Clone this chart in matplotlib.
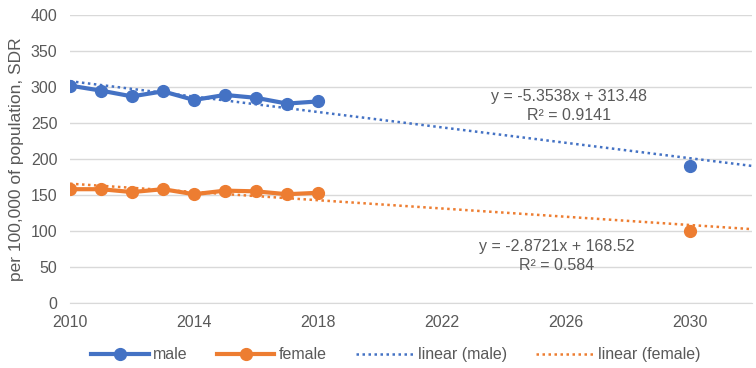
import matplotlib.pyplot as plt
import numpy as np

plt.rcParams["font.family"] = ["Liberation Sans", "DejaVu Sans"]

years = [2010, 2011, 2012, 2013, 2014, 2015, 2016, 2017, 2018]
male = [302, 295, 287, 294, 282, 289, 285, 277, 280]
female = [158, 158, 154, 158, 151, 156, 155, 151, 153]
forecast_year = 2030
male_2030 = 190
female_2030 = 100

# Excel trendline coefficients (x = index, 2010 -> 1)
male_slope, male_icpt, male_r2 = -5.3538, 313.48, 0.9141
female_slope, female_icpt, female_r2 = -2.8721, 168.52, 0.584
trend_end = 2032

blue = "#4472C4"
orange = "#ED7D31"
gray = "#595959"

fig = plt.figure(figsize=(7.56, 3.68), dpi=100)
ax = fig.add_axes([0.0926, 0.177, 0.902, 0.782])

ax.plot(years, male, color=blue, lw=3, marker="o", ms=8.5, label="male", zorder=3)
ax.plot(years, female, color=orange, lw=3, marker="o", ms=8.5, label="female", zorder=3)
ax.plot([forecast_year], [male_2030], color=blue, marker="o", ms=8.5, ls="none", zorder=3)
ax.plot([forecast_year], [female_2030], color=orange, marker="o", ms=8.5, ls="none", zorder=3)

tx = np.array([years[0], trend_end])
idx = tx - years[0] + 1
ax.plot(tx, male_slope * idx + male_icpt, color=blue, lw=1.8, ls=(0, (1, 1.4)),
        label="linear (male)", zorder=2)
ax.plot(tx, female_slope * idx + female_icpt, color=orange, lw=1.8, ls=(0, (1, 1.4)),
        label="linear (female)", zorder=2)

ax.text(2026.1, 274, f"y = {male_slope}x + {male_icpt}\nR² = {male_r2}",
        ha="center", va="center", fontsize=11.5, color=gray, linespacing=1.3)
ax.text(2025.7, 65, f"y = {female_slope}x + {female_icpt}\nR² = {female_r2}",
        ha="center", va="center", fontsize=11.5, color=gray, linespacing=1.3)

ax.set_xlim(2010, 2032)
ax.set_ylim(0, 400)
ax.set_xticks(range(2010, 2031, 4))
ax.set_yticks(range(0, 401, 50))
ax.grid(axis="y", color="#d9d9d9", lw=1)
ax.set_axisbelow(True)
for s in ["top", "right", "left"]:
    ax.spines[s].set_visible(False)
ax.spines["bottom"].set_color("#d9d9d9")
ax.tick_params(length=0, labelsize=11.5, colors=gray, pad=9)
ax.set_ylabel("per 100,000 of population, SDR", fontsize=12.5, color=gray, labelpad=5)

ax.legend(loc="upper center", bbox_to_anchor=(0.478, -0.105), ncol=4, frameon=False,
          fontsize=11.5, labelcolor=gray, handlelength=3.6, columnspacing=1.8,
          handletextpad=0.3)

fig.savefig("out.png", dpi=100)
